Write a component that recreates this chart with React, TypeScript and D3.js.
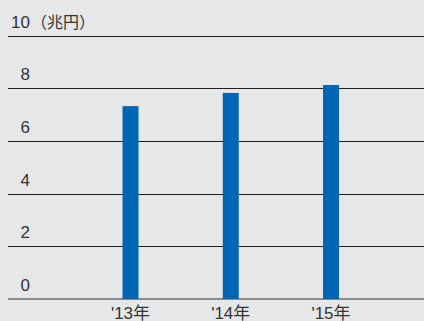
import React from "react";
import * as d3 from "d3";

const categories = ["'13年", "'14年", "'15年"];
const values = [7.32, 7.82, 8.12];
const yTicks = [0, 2, 4, 6, 8, 10];
const unitLabel = "（兆円）";

const W = 424;
const H = 321;

export default function App() {
  const y = d3.scaleLinear().domain([0, 10]).range([299, 35.5]);
  const x = d3.scalePoint<string>().domain(categories).range([130.5, 331]);
  const barW = 16;
  const font = "'Liberation Sans', 'Noto Sans CJK JP', sans-serif";
  return (
    <svg
      width={W}
      height={H}
      style={{ position: "absolute", left: 0, top: 0, display: "block" }}
      fontFamily={font}
    >
      <rect x={0} y={0} width={W} height={H} fill="#E6E7E8" />
      {yTicks.map((t) => (
        <g key={t}>
          <line
            x1={8}
            x2={W}
            y1={Math.round(y(t)) + (t === 0 ? 0 : 0.5)}
            y2={Math.round(y(t)) + (t === 0 ? 0 : 0.5)}
            stroke={t === 0 ? "#8A8A8C" : "#231F20"}
            strokeWidth={t === 0 ? 2 : 1}
          />
          <text
            x={30}
            y={y(t) - 8}
            textAnchor="end"
            fontSize={17}
            fill="#333"
          >
            {t}
          </text>
        </g>
      ))}
      <text x={31} y={y(10) - 8} fontSize={16} fill="#333" fontFamily="'Noto Sans CJK JP', sans-serif">
        {unitLabel}
      </text>
      {categories.map((c, i) => (
        <rect
          key={c}
          x={(x(c) as number) - barW / 2}
          y={y(values[i])}
          width={barW}
          height={y(0) - y(values[i])}
          fill="#0066B3"
        />
      ))}
      {categories.map((c) => (
        <text
          key={c}
          x={x(c) as number}
          y={319}
          textAnchor="middle"
          fontSize={17}
          fill="#333"
        >
          {c}
        </text>
      ))}
    </svg>
  );
}
